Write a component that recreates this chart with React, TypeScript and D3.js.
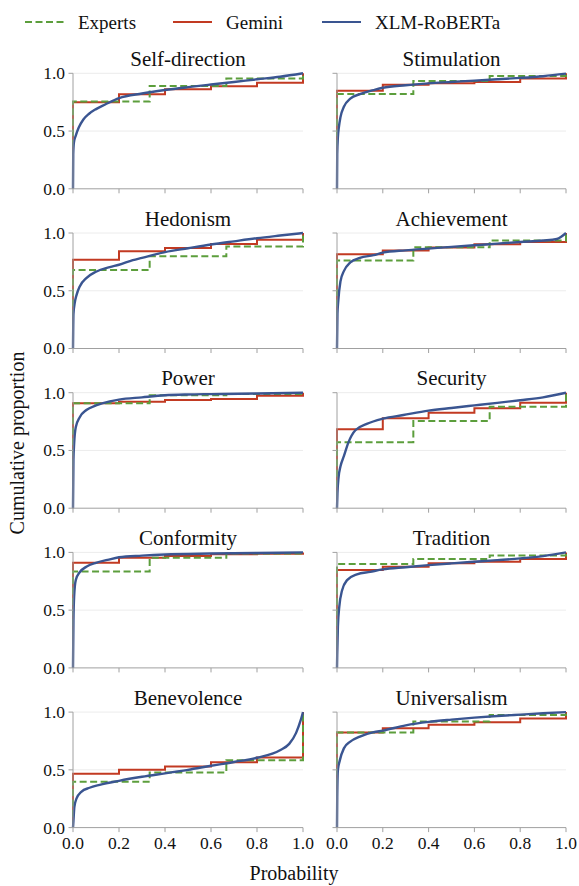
import React from "react";
import * as d3 from "d3";

const panelNames = [
  "Self-direction", "Stimulation", "Hedonism", "Achievement", "Power",
  "Security", "Conformity", "Tradition", "Benevolence", "Universalism",
];

const legendLabels = ["Experts", "Gemini", "XLM-RoBERTa"];

const expertSteps = [0, 1 / 3, 2 / 3];
const geminiSteps = [0, 0.2, 0.4, 0.6, 0.8];

const expertsValues = [
  [0.755, 0.89, 0.954],
  [0.82, 0.934, 0.977],
  [0.679, 0.798, 0.884],
  [0.761, 0.876, 0.934],
  [0.908, 0.977, 0.988],
  [0.571, 0.755, 0.879],
  [0.835, 0.954, 0.991],
  [0.899, 0.942, 0.974],
  [0.397, 0.478, 0.583],
  [0.823, 0.919, 0.974],
];

const geminiValues = [
  [0.75, 0.818, 0.862, 0.888, 0.919],
  [0.85, 0.9, 0.914, 0.925, 0.955],
  [0.769, 0.841, 0.87, 0.905, 0.942],
  [0.816, 0.848, 0.874, 0.902, 0.922],
  [0.908, 0.922, 0.937, 0.945, 0.974],
  [0.683, 0.778, 0.827, 0.865, 0.914],
  [0.91, 0.954, 0.968, 0.983, 0.988],
  [0.847, 0.876, 0.905, 0.919, 0.942],
  [0.467, 0.501, 0.53, 0.565, 0.606],
  [0.823, 0.86, 0.89, 0.913, 0.945],
];

const xlmCurves: [number, number][][] = [
  [[0,0],[0.001,0.3],[0.004,0.4],[0.012,0.46],[0.025,0.53],[0.045,0.6],[0.07,0.65],[0.1,0.69],[0.14,0.73],[0.2,0.785],[0.3,0.825],[0.4,0.855],[0.5,0.88],[0.6,0.903],[0.7,0.925],[0.8,0.948],[0.9,0.97],[1,1]],
  [[0,0],[0.001,0.3],[0.004,0.45],[0.008,0.53],[0.015,0.62],[0.03,0.71],[0.058,0.78],[0.1,0.82],[0.16,0.855],[0.2,0.875],[0.3,0.897],[0.4,0.913],[0.5,0.925],[0.6,0.937],[0.7,0.948],[0.8,0.96],[0.9,0.975],[1,0.997]],
  [[0,0],[0.002,0.3],[0.008,0.4],[0.015,0.46],[0.03,0.54],[0.058,0.61],[0.1,0.665],[0.16,0.705],[0.2,0.725],[0.26,0.765],[0.3,0.785],[0.4,0.835],[0.5,0.868],[0.6,0.9],[0.7,0.928],[0.8,0.955],[0.9,0.978],[1,1]],
  [[0,0],[0.002,0.3],[0.005,0.4],[0.015,0.58],[0.03,0.67],[0.058,0.745],[0.1,0.785],[0.16,0.808],[0.2,0.83],[0.3,0.85],[0.4,0.865],[0.5,0.88],[0.6,0.894],[0.7,0.908],[0.8,0.922],[0.9,0.935],[0.96,0.948],[1,1]],
  [[0,0],[0.002,0.42],[0.005,0.56],[0.012,0.7],[0.03,0.79],[0.058,0.85],[0.1,0.89],[0.16,0.925],[0.2,0.94],[0.3,0.96],[0.4,0.978],[0.5,0.985],[0.6,0.988],[0.8,0.993],[1,1]],
  [[0,0],[0.002,0.13],[0.007,0.27],[0.015,0.36],[0.03,0.45],[0.05,0.57],[0.08,0.675],[0.13,0.73],[0.2,0.775],[0.29,0.807],[0.4,0.845],[0.5,0.868],[0.6,0.89],[0.7,0.912],[0.8,0.935],[0.9,0.96],[1,1]],
  [[0,0],[0.002,0.41],[0.005,0.62],[0.012,0.76],[0.03,0.83],[0.058,0.876],[0.1,0.91],[0.15,0.935],[0.2,0.958],[0.3,0.972],[0.4,0.982],[0.6,0.99],[0.8,0.995],[1,1]],
  [[0,0],[0.001,0.12],[0.004,0.36],[0.01,0.53],[0.022,0.67],[0.044,0.76],[0.087,0.81],[0.145,0.832],[0.2,0.853],[0.3,0.872],[0.4,0.89],[0.5,0.905],[0.6,0.919],[0.7,0.933],[0.8,0.948],[0.9,0.968],[1,1]],
  [[0,0],[0.002,0.06],[0.006,0.18],[0.015,0.25],[0.036,0.31],[0.072,0.345],[0.116,0.37],[0.2,0.405],[0.3,0.44],[0.4,0.47],[0.5,0.5],[0.6,0.535],[0.7,0.568],[0.8,0.605],[0.9,0.67],[0.94,0.725],[0.97,0.82],[0.99,0.93],[1,1]],
  [[0,0],[0.001,0.26],[0.004,0.5],[0.012,0.58],[0.03,0.686],[0.058,0.744],[0.1,0.788],[0.16,0.826],[0.2,0.84],[0.3,0.885],[0.4,0.915],[0.5,0.935],[0.6,0.952],[0.7,0.966],[0.8,0.978],[0.9,0.99],[1,1]],
];

const xTicks = [0, 0.2, 0.4, 0.6, 0.8, 1.0];
const yTicks = [0, 0.5, 1.0];

const W = 579;
const H = 886;
const FONT = "Liberation Serif, Times New Roman, Times, DejaVu Serif, serif";
const GREEN = "#5c9e3c";
const RED = "#c23a22";
const BLUE = "#3a5591";
const AXIS = "#a0a0a0";

const colX = [[73, 303], [337, 566]];
const rowTop0 = 73.3;
const rowStep = 159.7;
const panelH = 115.5;

function stepPoints(steps: number[], vals: number[]): [number, number][] {
  const pts: [number, number][] = [[0, 0]];
  steps.forEach((s, i) => pts.push([s, vals[i]]));
  pts.push([1, 1]);
  return pts;
}

function Panel({ idx }: { idx: number }) {
  const col = idx % 2;
  const row = Math.floor(idx / 2);
  const top = rowTop0 + row * rowStep;
  const bottom = top + panelH;
  const [x0, x1] = colX[col];
  const x = d3.scaleLinear().domain([0, 1]).range([x0, x1]);
  const y = d3.scaleLinear().domain([0, 1]).range([bottom, top]);
  const fmt = d3.format(".1f");

  const stepLine = d3.line<[number, number]>()
    .x((d) => x(d[0]))
    .y((d) => y(d[1]))
    .curve(d3.curveStepAfter);
  const smooth = d3.line<[number, number]>()
    .x((d) => x(d[0]))
    .y((d) => y(d[1]))
    .curve(d3.curveMonotoneX);

  const gem = stepPoints(geminiSteps, geminiValues[idx]);
  const exp = stepPoints(expertSteps, expertsValues[idx]);

  return (
    <g>
      {yTicks.filter((t) => t > 0).map((t) => (
        <line key={"g" + t} x1={x0} x2={x1} y1={y(t)} y2={y(t)} stroke="#ececec" strokeWidth={1} />
      ))}
      <text x={(x0 + x1) / 2} y={top - 7.5} textAnchor="middle" fontSize={21} fontFamily={FONT} fill="#111">
        {panelNames[idx]}
      </text>
      <path d={stepLine(gem) || ""} fill="none" stroke={RED} strokeWidth={2} />
      <path d={stepLine(exp) || ""} fill="none" stroke={GREEN} strokeWidth={2} strokeDasharray="7,3.5" />
      <path d={smooth(xlmCurves[idx]) || ""} fill="none" stroke={BLUE} strokeWidth={2.4} strokeLinejoin="round" />
      <line x1={x0} x2={x0} y1={top} y2={bottom} stroke={AXIS} strokeWidth={1} />
      <line x1={x0} x2={x1} y1={bottom} y2={bottom} stroke={AXIS} strokeWidth={1} />
      {yTicks.map((t) => (
        <g key={"y" + t}>
          <line x1={x0 - 4.5} x2={x0} y1={y(t)} y2={y(t)} stroke={AXIS} strokeWidth={1} />
          {col === 0 && (
            <text x={x0 - 8} y={y(t)} dy="0.34em" textAnchor="end" fontSize={17.5} fontFamily={FONT} fill="#111">
              {fmt(t)}
            </text>
          )}
        </g>
      ))}
      {xTicks.map((t) => (
        <g key={"x" + t}>
          <line x1={x(t)} x2={x(t)} y1={bottom} y2={bottom + 4.5} stroke={AXIS} strokeWidth={1} />
          {row === 4 && (
            <text x={x(t)} y={bottom + 8} dy="0.75em" textAnchor="middle" fontSize={17.5} fontFamily={FONT} fill="#111">
              {fmt(t)}
            </text>
          )}
        </g>
      ))}
    </g>
  );
}

export default function App() {
  const legendItems = [
    { label: legendLabels[0], color: GREEN, dash: "7,3.5", x: 25 },
    { label: legendLabels[1], color: RED, dash: undefined, x: 173 },
    { label: legendLabels[2], color: BLUE, dash: undefined, x: 322 },
  ];
  return (
    <svg width={W} height={H} style={{ position: "absolute", left: 0, top: 0, background: "#fff" }}>
      {legendItems.map((it) => (
        <g key={it.label}>
          <line x1={it.x} x2={it.x + 39} y1={22} y2={22} stroke={it.color} strokeWidth={2} strokeDasharray={it.dash} />
          <text x={it.x + 53} y={29} fontSize={19} fontFamily={FONT} fill="#111">{it.label}</text>
        </g>
      ))}
      {panelNames.map((_, i) => <Panel key={i} idx={i} />)}
      <text transform="translate(24,443) rotate(-90)" textAnchor="middle" fontSize={20} fontFamily={FONT} fill="#111">
        Cumulative proportion
      </text>
      <text x={294} y={880} textAnchor="middle" fontSize={20} fontFamily={FONT} fill="#111">
        Probability
      </text>
    </svg>
  );
}
